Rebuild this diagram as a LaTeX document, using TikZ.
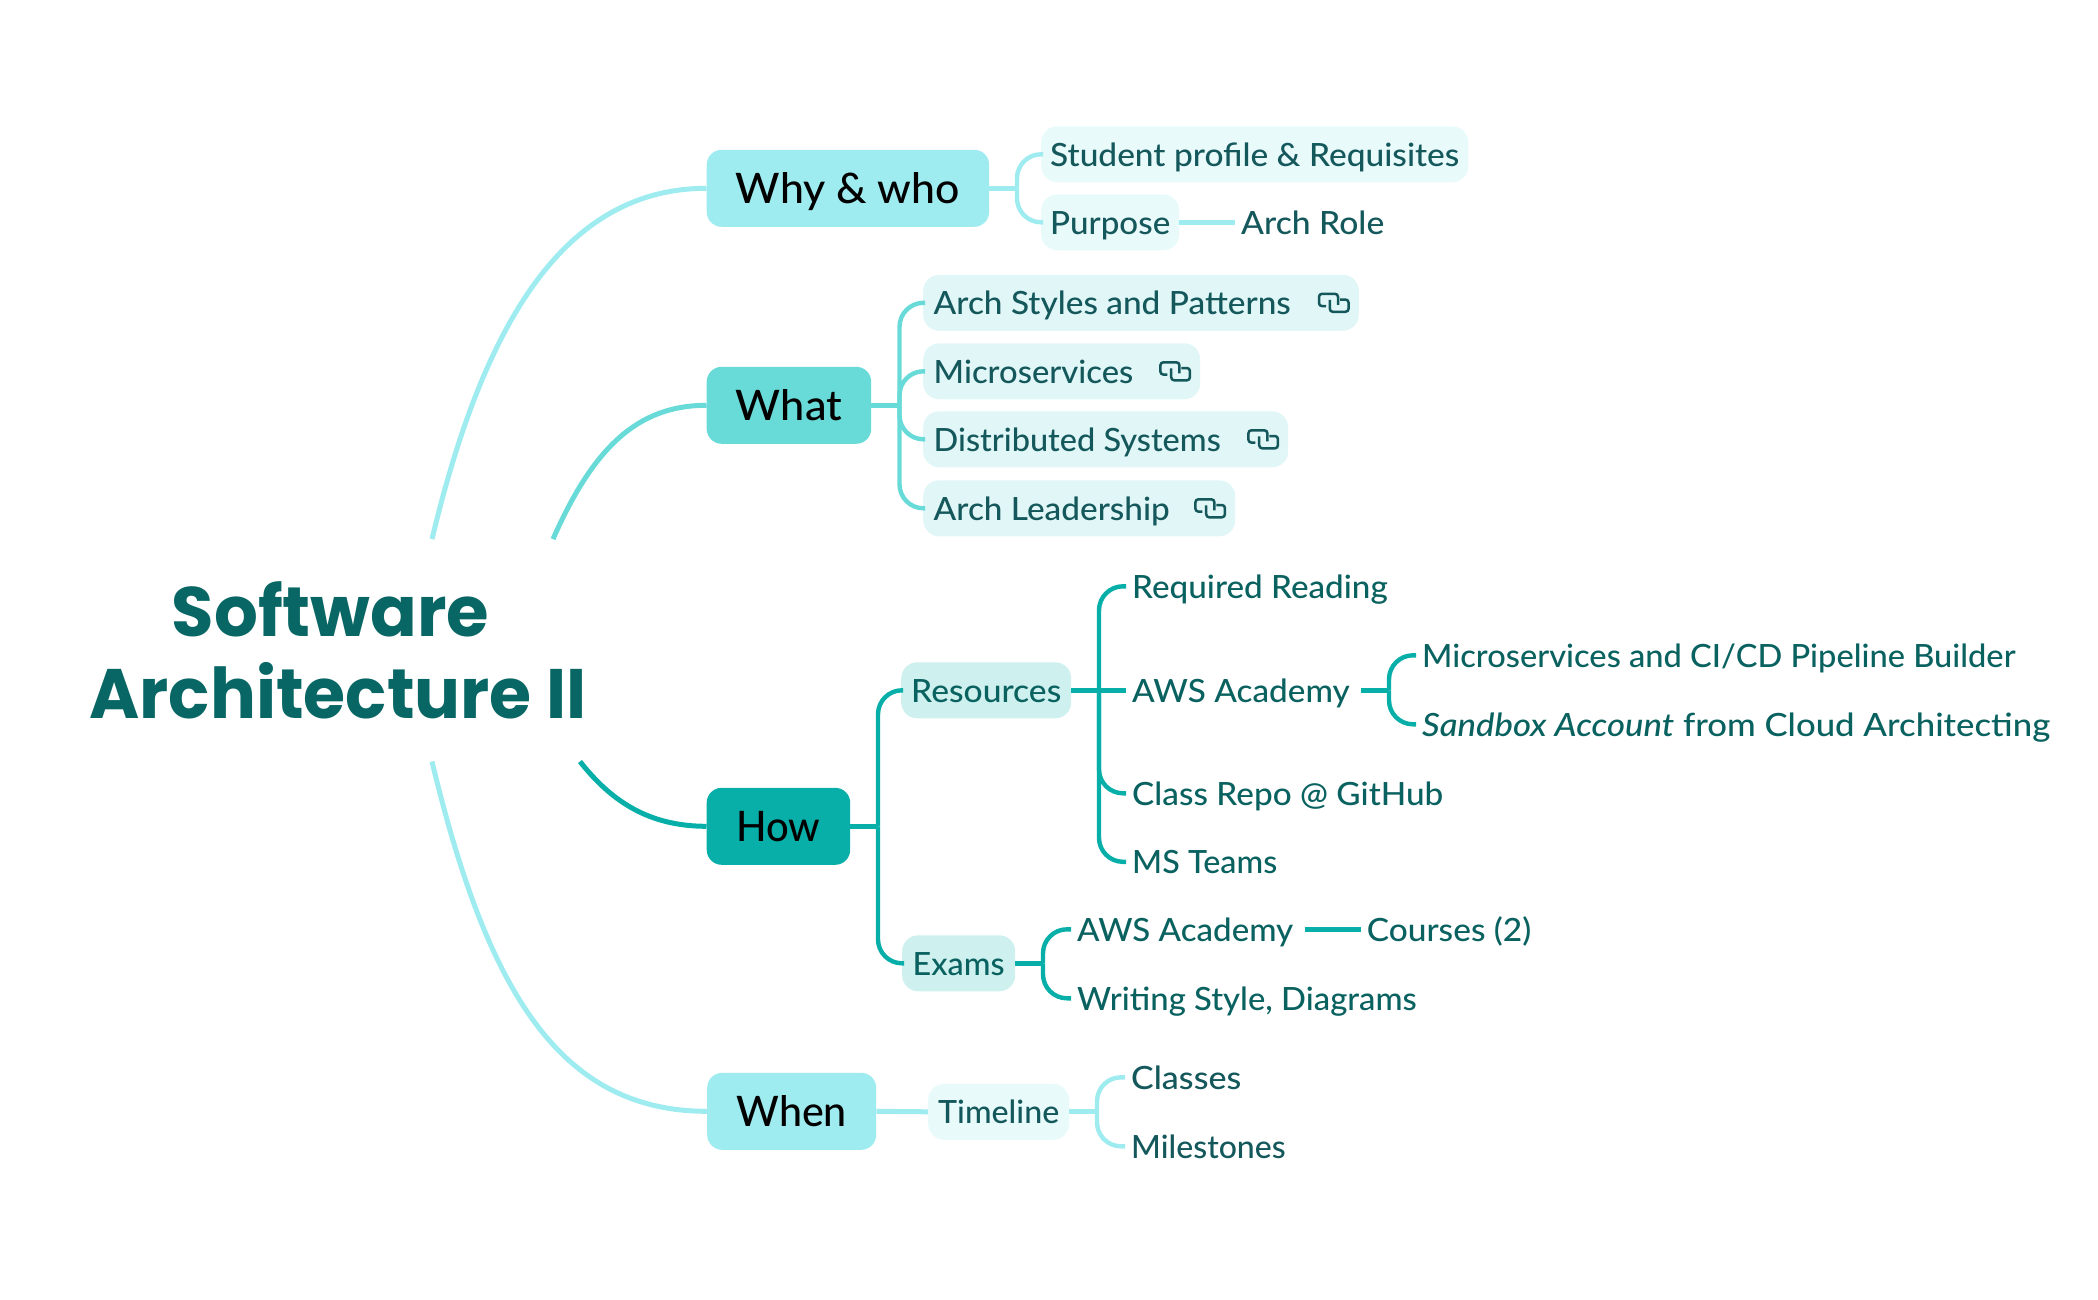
\documentclass[tikz,border=0pt]{standalone}
\usepackage{fontspec}
\setmainfont{Lato Medium}[ItalicFont={Lato Medium Italic},BoldFont={Lato Black}]
\newfontfamily\titlefont{Poppins}[BoldFont={Poppins Bold}]
\usetikzlibrary{calc}
\definecolor{cA}{HTML}{9EEBF0}
\definecolor{cB}{HTML}{68DAD7}
\definecolor{cC}{HTML}{08AFA9}
\definecolor{fA}{HTML}{E9FAFB}
\definecolor{fB}{HTML}{E1F6F7}
\definecolor{fC}{HTML}{CEF0EE}
\definecolor{tTitle}{HTML}{086764}
\definecolor{tA}{HTML}{14585C}
\definecolor{tC}{HTML}{0A6260}
\newcommand\fitw[2]{\resizebox{#1pt}{\height}{#2}}
\tikzset{
  rootnode/.style={inner sep=0pt,minimum width=500pt,minimum height=222pt,align=center,text=tTitle,font=\titlefont\fontsize{70}{82}\selectfont\bfseries},
  mainbox/.style={rounded corners=15pt,inner sep=0pt,minimum height=77pt,text=black,text height=37pt,text depth=6pt,font=\fontsize{42}{48}\selectfont,anchor=west},
  childbox/.style={rounded corners=16pt,inner sep=0pt,minimum height=56pt,text height=30pt,text depth=6pt,font=\fontsize{32}{36}\selectfont,anchor=west},
  plain/.style={inner xsep=6pt,inner ysep=0pt,text height=30pt,text depth=6pt,font=\fontsize{32}{36}\selectfont,anchor=west},
  rootlink/.style={line width=5pt},
  link/.style={line width=4.4pt,rounded corners=24pt},
  stub/.style={line width=5pt},
  linkicon/.pic={
    \draw[line width=2.5pt,rounded corners=3pt,color=tA] (-7.5,3.3) -- (-14.5,3.3) -- (-14.5,-9) -- (4.5,-9) -- (4.5,2);
    \draw[line width=2.5pt,rounded corners=3pt,color=tA] (6.5,-3.3) -- (15,-3.3) -- (15,9) -- (-3.7,9) -- (-3.7,-3);
  }
}
\begin{document}
\begin{tikzpicture}[x=1pt,y=-1pt]
\useasboundingbox (0,-0.3) rectangle (2098,1299.7);
% root
\node[rootnode] (root) at (338,650) {\fitw{317.5}{Software}\rule{15pt}{0pt}\\\fitw{497}{Architecture II}};
% main nodes
\node[mainbox,fill=cA,minimum width=282.5pt] (why) at (706.5,188) {\fitw{224}{Why \& who}};
\node[mainbox,fill=cB,minimum width=164.5pt] (what) at (706.5,405) {\fitw{106}{What}};
\node[mainbox,fill=cC,minimum width=143.5pt] (how) at (706.5,826) {\fitw{84}{How}};
\node[mainbox,fill=cA,minimum width=169pt] (when) at (707,1111) {\fitw{110.5}{When}};
% why children
\node[childbox,fill=fA,minimum width=427pt,text=tA] (student) at (1041,154) {\fitw{409}{Student profile \& Requisites}};
\node[childbox,fill=fA,minimum width=138pt,text=tA] (purpose) at (1041,222) {\fitw{120}{Purpose}};
\node[plain,text=tA] (archrole) at (1235,222) {\fitw{143}{Arch Role}};
% what children
\node[childbox,fill=fB,minimum width=435.6pt,text=tA] (styles) at (923,302.5) {\makebox[414.6pt][l]{\fitw{357}{Arch Styles and Patterns}}};
\node[childbox,fill=fB,minimum width=277pt,text=tA] (micro) at (923,371) {\makebox[256pt][l]{\fitw{199.5}{Microservices}}};
\node[childbox,fill=fB,minimum width=365pt,text=tA] (dist) at (923,439) {\makebox[344pt][l]{\fitw{287}{Distributed Systems}}};
\node[childbox,fill=fB,minimum width=312pt,text=tA] (lead) at (923,508) {\makebox[291pt][l]{\fitw{236}{Arch Leadership}}};
\pic at ([xshift=-25.5pt]styles.east) {linkicon};
\pic at ([xshift=-25.5pt]micro.east) {linkicon};
\pic at ([xshift=-25.5pt]dist.east) {linkicon};
\pic at ([xshift=-25.5pt]lead.east) {linkicon};
% how children
\node[childbox,fill=fC,minimum width=170pt,text=tC] (res) at (901,690) {\fitw{150}{Resources}};
\node[childbox,fill=fC,minimum width=113pt,text=tC] (exams) at (902,963) {\fitw{92}{Exams}};
\node[plain,text=tC] (req) at (1126,586) {\fitw{255.5}{Required Reading}};
\node[plain,text=tC] (aws) at (1126,690) {\fitw{217.5}{AWS Academy}};
\node[plain,text=tC] (repo) at (1126,793) {\fitw{311}{Class Repo @ GitHub}};
\node[plain,text=tC] (teams) at (1126,861.5) {\fitw{145}{MS Teams}};
\node[plain,text=tC] (pipe) at (1416,655) {\fitw{593}{Microservices and CI/CD Pipeline Builder}};
\node[plain,text=tC] (sand) at (1416,724) {\fitw{628}{\textit{Sandbox Account} from Cloud Architecting}};
\node[plain,text=tC] (aws2) at (1071,929) {\fitw{216}{AWS Academy}};
\node[plain,text=tC] (courses) at (1360.6,929) {\fitw{164.5}{Courses (2)}};
\node[plain,text=tC] (writing) at (1071,998) {\fitw{339.5}{Writing Style, Diagrams}};
% when children
\node[childbox,fill=fA,minimum width=141pt,text=tA] (timeline) at (928,1111.5) {\fitw{121}{Timeline}};
\node[plain,text=tA] (classes) at (1125,1077) {\fitw{110}{Classes}};
\node[plain,text=tA] (miles) at (1125,1146) {\fitw{154.5}{Milestones}};
% root links
\draw[rootlink,cA] ([xshift=94pt]root.north) .. controls (480,338) and (557,188) .. (why.west);
\draw[rootlink,cB] ([xshift=215pt]root.north) .. controls (593,448) and (637,405) .. (what.west);
\draw[rootlink,cC] ([xshift=242pt]root.south) .. controls (612,802) and (650,826) .. (how.west);
\draw[rootlink,cA] ([xshift=94pt]root.south) .. controls (486,986) and (557,1111) .. (when.west);
% why links
\coordinate (twhy) at (1017,188);
\draw[stub,cA] (why.east) -- (twhy);
\draw[link,cA] (twhy) |- ([xshift=2pt]student.west);
\draw[link,cA] (twhy) |- ([xshift=2pt]purpose.west);
\draw[stub,cA] (purpose.east) -- (archrole.west);
% what links
\coordinate (twhat) at (899.5,405);
\draw[stub,cB] (what.east) -- (twhat);
\foreach \c in {styles,micro,dist,lead}{\draw[link,cB] (twhat) |- ([xshift=2pt]\c.west);}
% how links
\coordinate (thow) at (878,826);
\draw[stub,cC] (how.east) -- (thow);
\draw[link,cC] (thow) |- ([xshift=2pt]res.west);
\draw[link,cC] (thow) |- ([xshift=2pt]exams.west);
\coordinate (tres) at (1099,690);
\draw[stub,cC] (res.east) -- (aws.west);
\foreach \c in {req,repo,teams}{\draw[link,cC] (tres) |- (\c.west);}
\coordinate (taws) at (1389,690);
\draw[stub,cC] ([xshift=5.5pt]aws.east) -- (taws);
\draw[link,cC] (taws) |- (pipe.west);
\draw[link,cC] (taws) |- (sand.west);
\coordinate (tex) at (1043,963);
\draw[stub,cC] (exams.east) -- (tex);
\draw[link,cC] (tex) |- (aws2.west);
\draw[link,cC] (tex) |- (writing.west);
\draw[stub,cC] ([xshift=5.6pt]aws2.east) -- (courses.west);
% when links
\draw[stub,cA] (when.east) -- (timeline.west);
\coordinate (ttl) at (1097,1111.5);
\draw[stub,cA] (timeline.east) -- (ttl);
\draw[link,cA] (ttl) |- (classes.west);
\draw[link,cA] (ttl) |- (miles.west);
\end{tikzpicture}
\end{document}
